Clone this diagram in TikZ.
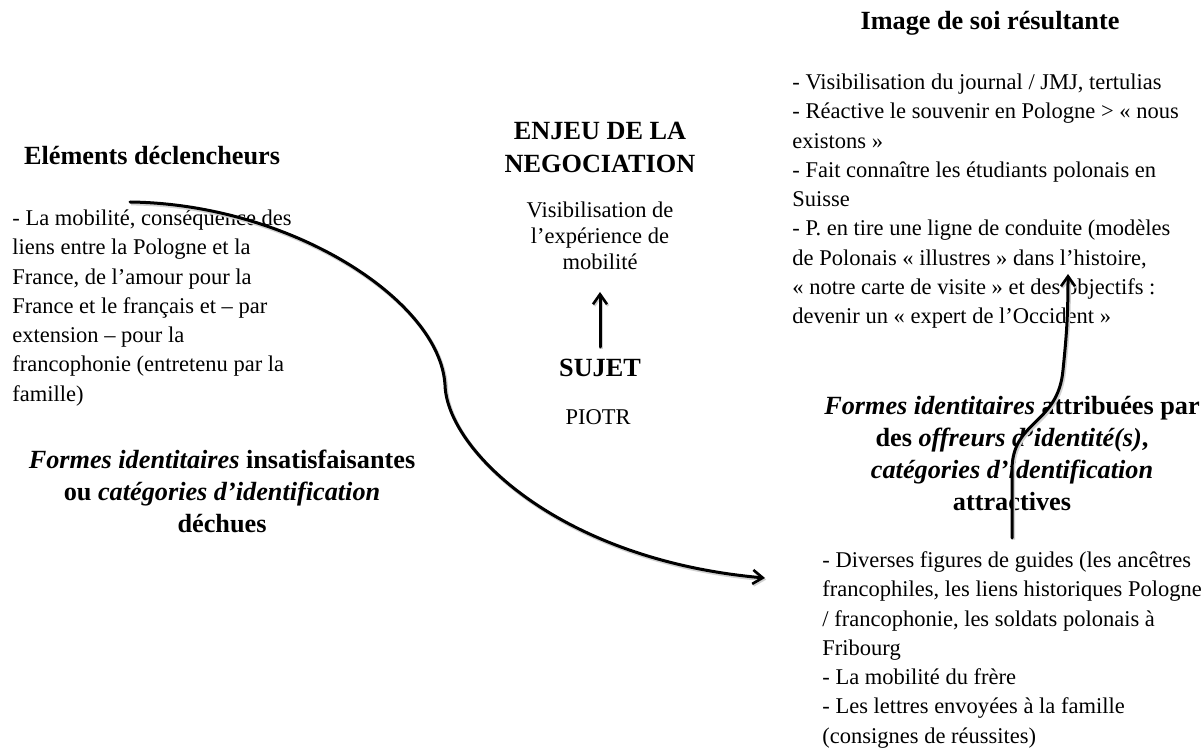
\documentclass[tikz,border=0pt]{standalone}
\usepackage{fontspec}
\setmainfont{Liberation Serif}[Ligatures=NoCommon]
\usetikzlibrary{arrows.meta}
\tikzset{
  body/.style={font=\fontsize{11.25pt}{14.65pt}\selectfont, inner sep=0pt, align=left, anchor=north west},
  bodyc/.style={font=\fontsize{11.25pt}{13pt}\selectfont, inner sep=0pt, align=center, anchor=north},
  head/.style={font=\fontsize{13.125pt}{15.6pt}\selectfont\bfseries, inner sep=0pt, align=center},
  shadowed/.style={preaction={draw=black!18, line width=1.8pt, transform canvas={shift={(0.6pt,-0.8pt)}}}},
  arr/.style={line width=1.5pt, line cap=round, -{Straight Barb[length=5pt,width=7pt,line width=1.3pt]}},
}
\begin{document}
\begin{tikzpicture}[x=0.5pt,y=-0.5pt]
\useasboundingbox (0,0) rectangle (1204,748);

% Titles and texts
\node[head, anchor=base] (title) at (990,30) {Image de soi résultante};

\node[body] (rtop) at (792,68.5) {\strut - Visibilisation du journal / JMJ, tertulias\\
- Réactive le souvenir en Pologne > « nous\\
existons »\\
- Fait connaître les étudiants polonais en\\
Suisse\\
- P. en tire une ligne de conduite (modèles\\
de Polonais « illustres » dans l’histoire,\\
« notre carte de visite » et des objectifs :\\
devenir un « expert de l’Occident »};

\node[head, anchor=base] (lhead) at (152,165) {Eléments déclencheurs};

\node[body] (lbody) at (12,204.5) {\strut - La mobilité, conséquence des\\
liens entre la Pologne et la\\
France, de l’amour pour la\\
France et le français et – par\\
extension – pour la\\
francophonie (entretenu par la\\
famille)};

\node[head, anchor=north, font=\fontsize{13.125pt}{16pt}\selectfont\bfseries] (lform) at (222,445.6)
  {\strut\textit{Formes identitaires} insatisfaisantes\\ ou \textit{catégories d’identification}\\ déchues};

\node[head, anchor=north, font=\fontsize{13.125pt}{16.5pt}\selectfont\bfseries] (enjeu) at (600,115.9)
  {\strut ENJEU DE LA\\ NEGOCIATION};

\node[bodyc] (visi) at (600,198.8) {\strut Visibilisation de\\ l’expérience de\\ mobilité};

\node[head, anchor=base] (sujet) at (600,377) {SUJET};
\node[font=\fontsize{11.25pt}{13pt}\selectfont, inner sep=0pt, anchor=base] (piotr) at (598,424) {PIOTR};

\node[head, anchor=north, font=\fontsize{13.125pt}{16pt}\selectfont\bfseries] (rform) at (1012,391.6)
  {\strut\textit{Formes identitaires} attribuées par\\ des \textit{offreurs d’identité(s)},\\ \textit{catégories d’identification}\\ attractives};

\node[body] (rbody) at (822,546.5) {\strut - Diverses figures de guides (les ancêtres\\
francophiles, les liens historiques Pologne\\
/ francophonie, les soldats polonais à\\
Fribourg\\
- La mobilité du frère\\
- Les lettres envoyées à la famille\\
(consignes de réussites)};

% Connector end points
\coordinate (cS) at (130,202);
\coordinate (cM) at (445,385);
\coordinate (cE) at (765,578);
\coordinate (aS) at (600,347);
\coordinate (aE) at (600,292);
\coordinate (rS) at (1012,538);
\coordinate (rM) at (1063,370);
\coordinate (rE) at (1068,274);

% Connectors
\draw[arr, shadowed] (cS) .. controls (290,204) and (440,300) .. (cM)
  .. controls (447,450) and (560,560) .. (cE);
\draw[arr, shadowed] (aS) -- (aE);
\draw[arr, shadowed] (rS) -- (1012,470) .. controls (1012,420) and (1058,425) .. (rM)
  .. controls (1066,340) and (1068,320) .. (rE);
\end{tikzpicture}
\end{document}
